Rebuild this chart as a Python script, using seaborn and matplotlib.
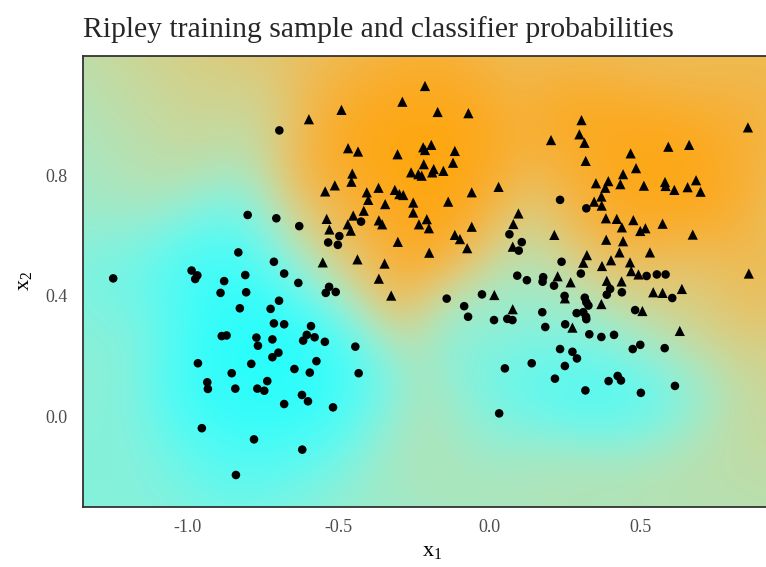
import numpy as np
import pandas as pd
import matplotlib
matplotlib.use("Agg")
import matplotlib.pyplot as plt
from matplotlib.colors import ListedColormap, to_rgb
import seaborn as sns

# ---------------------------------------------------------------------------
# Data (Ripley training sample)
# ---------------------------------------------------------------------------

# class 0 -> circles
x1_class0 = [
    -0.697, -0.802, -0.707, -0.631, -0.833, -0.715, -0.681, -0.634, -1.248, -0.988,
    -0.969, -0.976, -0.880, -0.810, -0.892, -0.807, -0.698, -0.828, -0.726, -0.715,
    -0.681, -0.888, -0.872, -0.773, -0.720, -0.606, -0.618, -0.426, -0.498, -0.535,
    -0.503, 0.066, 0.107, 0.097, 0.092, 0.124, -0.532, -0.543, -0.510, -0.142,
    -0.025, -0.084, -0.071, 0.015, 0.059, 0.076, -0.592, -0.580, -0.546, -0.445,
    -0.574, -0.596, -0.434, -0.622, -0.602, -0.519, -0.621, 0.051, 0.032, 0.140,
    0.234, 0.275, 0.290, 0.250, 0.217, 0.318, 0.475, 0.500, 0.581, 0.395,
    0.425, 0.436, 0.502, 0.615, -0.768, -0.700, -0.720, -0.967, -0.790, -0.647,
    -0.855, -0.936, -0.934, -0.843, -0.737, -0.770, -0.747, -0.681, -0.954, -0.781,
    -0.841, 0.234, 0.321, 0.239, 0.303, 0.178, 0.176, 0.214, 0.521, 0.555,
    0.584, 0.400, 0.389, 0.439, 0.606, 0.249, 0.316, 0.321, 0.328, 0.175,
    0.289, 0.311, 0.320, 0.321, 0.483, 0.251, 0.185, 0.331, 0.371, 0.413,
]
x2_class0 = [
    0.948, 0.668, 0.657, 0.631, 0.544, 0.513, 0.474, 0.443, 0.458, 0.484,
    0.468, 0.456, 0.449, 0.469, 0.410, 0.412, 0.384, 0.359, 0.357, 0.309,
    0.306, 0.267, 0.269, 0.262, 0.256, 0.271, 0.252, 0.646, 0.598, 0.577,
    0.569, 0.604, 0.578, 0.550, 0.467, 0.452, 0.430, 0.410, 0.413, 0.391,
    0.405, 0.366, 0.331, 0.320, 0.324, 0.320, 0.300, 0.263, 0.248, 0.232,
    0.184, 0.146, 0.144, 0.072, 0.051, 0.031, -0.109, 0.160, 0.011, 0.177,
    0.224, 0.215, 0.193, 0.168, 0.126, 0.087, 0.224, 0.238, 0.227, 0.118,
    0.135, 0.120, 0.079, 0.102, 0.235, 0.212, 0.197, 0.177, 0.175, 0.158,
    0.144, 0.114, 0.092, 0.093, 0.118, 0.093, 0.086, 0.042, -0.038, -0.075,
    -0.193, 0.718, 0.690, 0.513, 0.474, 0.462, 0.447, 0.434, 0.466, 0.471,
    0.471, 0.423, 0.404, 0.412, 0.393, 0.400, 0.394, 0.379, 0.368, 0.346,
    0.343, 0.346, 0.331, 0.323, 0.353, 0.306, 0.297, 0.273, 0.264, 0.271,
]

# class 1 -> triangles
x1_class1 = [
    -0.599, -0.214, -0.289, -0.172, -0.070, -0.491, -0.469, -0.436, -0.305, -0.220,
    -0.193, -0.214, -0.115, -0.121, -0.218, -0.260, -0.236, -0.225, -0.190, -0.185,
    -0.153, -0.455, -0.458, -0.513, -0.545, -0.407, -0.368, -0.314, -0.299, -0.286,
    -0.059, 0.030, -0.402, -0.346, -0.253, -0.253, -0.137, -0.417, -0.452, -0.540,
    -0.470, -0.531, -0.460, -0.367, -0.356, -0.208, -0.234, -0.201, -0.059, -0.115,
    -0.098, -0.074, -0.304, -0.200, -0.553, -0.438, -0.348, -0.367, -0.326, 0.096,
    0.079, 0.077, 0.016, 0.077, 0.857, 0.305, 0.298, 0.315, 0.204, 0.319,
    0.593, 0.662, 0.468, 0.486, 0.443, 0.353, 0.394, 0.384, 0.434, 0.512,
    0.582, 0.584, 0.613, 0.657, 0.685, 0.700, 0.371, 0.347, 0.372, 0.386,
    0.422, 0.439, 0.477, 0.500, 0.517, 0.574, 0.674, 0.215, 0.387, 0.443,
    0.431, 0.532, 0.323, 0.311, 0.403, 0.373, 0.466, 0.470, 0.494, 0.860,
    0.226, 0.269, 0.389, 0.438, 0.543, 0.574, 0.638, 0.250, 0.371, 0.507,
    0.275, 0.631,
]
x2_class1 = [
    0.985, 1.095, 1.043, 1.009, 1.005, 1.016, 0.889, 0.878, 0.869, 0.892,
    0.900, 0.883, 0.880, 0.841, 0.836, 0.809, 0.803, 0.798, 0.809, 0.820,
    0.814, 0.805, 0.778, 0.766, 0.746, 0.743, 0.758, 0.751, 0.737, 0.734,
    0.743, 0.761, 0.718, 0.704, 0.709, 0.676, 0.712, 0.682, 0.666, 0.655,
    0.637, 0.620, 0.616, 0.650, 0.637, 0.654, 0.637, 0.624, 0.629, 0.602,
    0.588, 0.558, 0.579, 0.543, 0.511, 0.521, 0.507, 0.457, 0.401, 0.673,
    0.638, 0.563, 0.403, 0.356, 0.958, 0.982, 0.935, 0.907, 0.916, 0.847,
    0.894, 0.900, 0.872, 0.823, 0.803, 0.773, 0.780, 0.758, 0.770, 0.765,
    0.777, 0.764, 0.751, 0.760, 0.783, 0.745, 0.729, 0.712, 0.699, 0.657,
    0.655, 0.627, 0.651, 0.615, 0.624, 0.639, 0.603, 0.602, 0.586, 0.581,
    0.544, 0.544, 0.535, 0.510, 0.518, 0.499, 0.511, 0.482, 0.471, 0.474,
    0.465, 0.445, 0.450, 0.448, 0.412, 0.410, 0.423, 0.392, 0.373, 0.350,
    0.295, 0.284,
]

x_ticks = [-1.0, -0.5, 0.0, 0.5]
y_ticks = [0.0, 0.4, 0.8]
low_colour = "#00FFFF"
high_colour = "#FFA500"

df = pd.DataFrame({
    "x1": x1_class0 + x1_class1,
    "x2": x2_class0 + x2_class1,
    "cls": ["0"] * len(x1_class0) + ["1"] * len(x1_class1),
})

XLIM = (-1.347, 0.966)
YLIM = (-0.299, 1.196)

# ---------------------------------------------------------------------------
# Classifier probabilities: narrow kernel estimate shrunk towards a
# wide-kernel estimate where the data are sparse
# ---------------------------------------------------------------------------

def kernel_sums(gx, gy, pts, labels, bw):
    dx = gx.ravel()[:, None] - pts[:, 0][None, :]
    dy = gy.ravel()[:, None] - pts[:, 1][None, :]
    k = np.exp(-(dx ** 2 + dy ** 2) / (2 * bw ** 2))
    return (k @ labels).reshape(gx.shape), k.sum(axis=1).reshape(gx.shape)


def class_probability(gx, gy, pts, labels, bw=0.13, bw_wide=0.4, prior=2.5,
                      shrink=0.6, contrast=1.25):
    s1w, sw = kernel_sums(gx, gy, pts, labels, bw_wide)
    base = 0.5 + shrink * (s1w / sw - 0.5)
    s1, s = kernel_sums(gx, gy, pts, labels, bw)
    p = np.clip((s1 + prior * base) / (s + prior), 1e-4, 1 - 1e-4)
    logit = np.log(p / (1 - p))
    return 1 / (1 + np.exp(-contrast * logit))


pts = df[["x1", "x2"]].to_numpy()
labels = (df["cls"] == "1").to_numpy().astype(float)
gx, gy = np.meshgrid(np.linspace(*XLIM, 160), np.linspace(*YLIM, 110))
prob = class_probability(gx, gy, pts, labels)

# gradient low -> high interpolated in Lab space (like ggplot)
M = np.array([[0.4124, 0.3576, 0.1805],
              [0.2126, 0.7152, 0.0722],
              [0.0193, 0.1192, 0.9505]])
WHITE = np.array([0.95047, 1.0, 1.08883])


def to_lab(col):
    rgb = np.array(to_rgb(col))
    lin = np.where(rgb <= 0.04045, rgb / 12.92, ((rgb + 0.055) / 1.055) ** 2.4)
    xyz = M @ lin / WHITE
    f = np.where(xyz > 0.008856, np.cbrt(xyz), 7.787 * xyz + 16 / 116)
    return np.array([116 * f[1] - 16, 500 * (f[0] - f[1]), 200 * (f[1] - f[2])])


def from_lab(lab):
    fy = (lab[:, 0] + 16) / 116
    f = np.stack([fy + lab[:, 1] / 500, fy, fy - lab[:, 2] / 200], axis=1)
    xyz = np.where(f ** 3 > 0.008856, f ** 3, (f - 16 / 116) / 7.787) * WHITE
    lin = np.clip(xyz @ np.linalg.inv(M).T, 0, 1)
    rgb = np.where(lin <= 0.0031308, 12.92 * lin, 1.055 * lin ** (1 / 2.4) - 0.055)
    return np.clip(rgb, 0, 1)


t = np.linspace(0, 1, 256)[:, None]
lab_lo, lab_hi = to_lab(low_colour), to_lab(high_colour)
cmap = ListedColormap(from_lab(lab_lo + t * (lab_hi - lab_lo)))

# ---------------------------------------------------------------------------
# Plot
# ---------------------------------------------------------------------------

sns.set_style("white")
plt.rcParams["font.family"] = ["Liberation Serif", "DejaVu Serif"]
plt.rcParams["mathtext.fontset"] = "custom"
plt.rcParams["mathtext.rm"] = "Liberation Serif"
plt.rcParams["axes.unicode_minus"] = False

fig = plt.figure(figsize=(7.66, 5.67), dpi=100)
ax = fig.add_axes([0.1088, 0.1058, 0.9105, 0.7963])

ax.imshow(prob, extent=[*XLIM, *YLIM], origin="lower", cmap=cmap,
          vmin=0, vmax=1, aspect="auto", interpolation="bilinear", zorder=0)

sns.scatterplot(data=df, x="x1", y="x2", style="cls", size="cls",
                markers={"0": "o", "1": "^"}, sizes={"0": 38, "1": 54},
                color="black", linewidth=0, legend=False, ax=ax, zorder=2)

ax.set_xlim(*XLIM)
ax.set_ylim(*YLIM)
ax.set_xticks(x_ticks)
ax.set_xticklabels([f"{v:.1f}" for v in x_ticks])
ax.set_yticks(y_ticks)
ax.set_yticklabels([f"{v:.1f}" for v in y_ticks])

for s in ax.spines.values():
    s.set_color("#333333")
    s.set_linewidth(1.3)
ax.tick_params(direction="out", length=4.5, width=1.1, color="#333333",
               labelcolor="#4D4D4D", labelsize=13)
ax.tick_params(axis="x", pad=4)
ax.tick_params(axis="y", pad=7)

ax.set_xlabel(r"$\mathrm{x}_1$", fontsize=16, color="black", labelpad=5)
ax.set_ylabel(r"$\mathrm{x}_2$", fontsize=16, color="black", labelpad=7)
ax.set_title("Ripley training sample and classifier probabilities",
             loc="left", fontsize=21.3, pad=13)

fig.savefig("out.png", dpi=100)
plt.close("all")
